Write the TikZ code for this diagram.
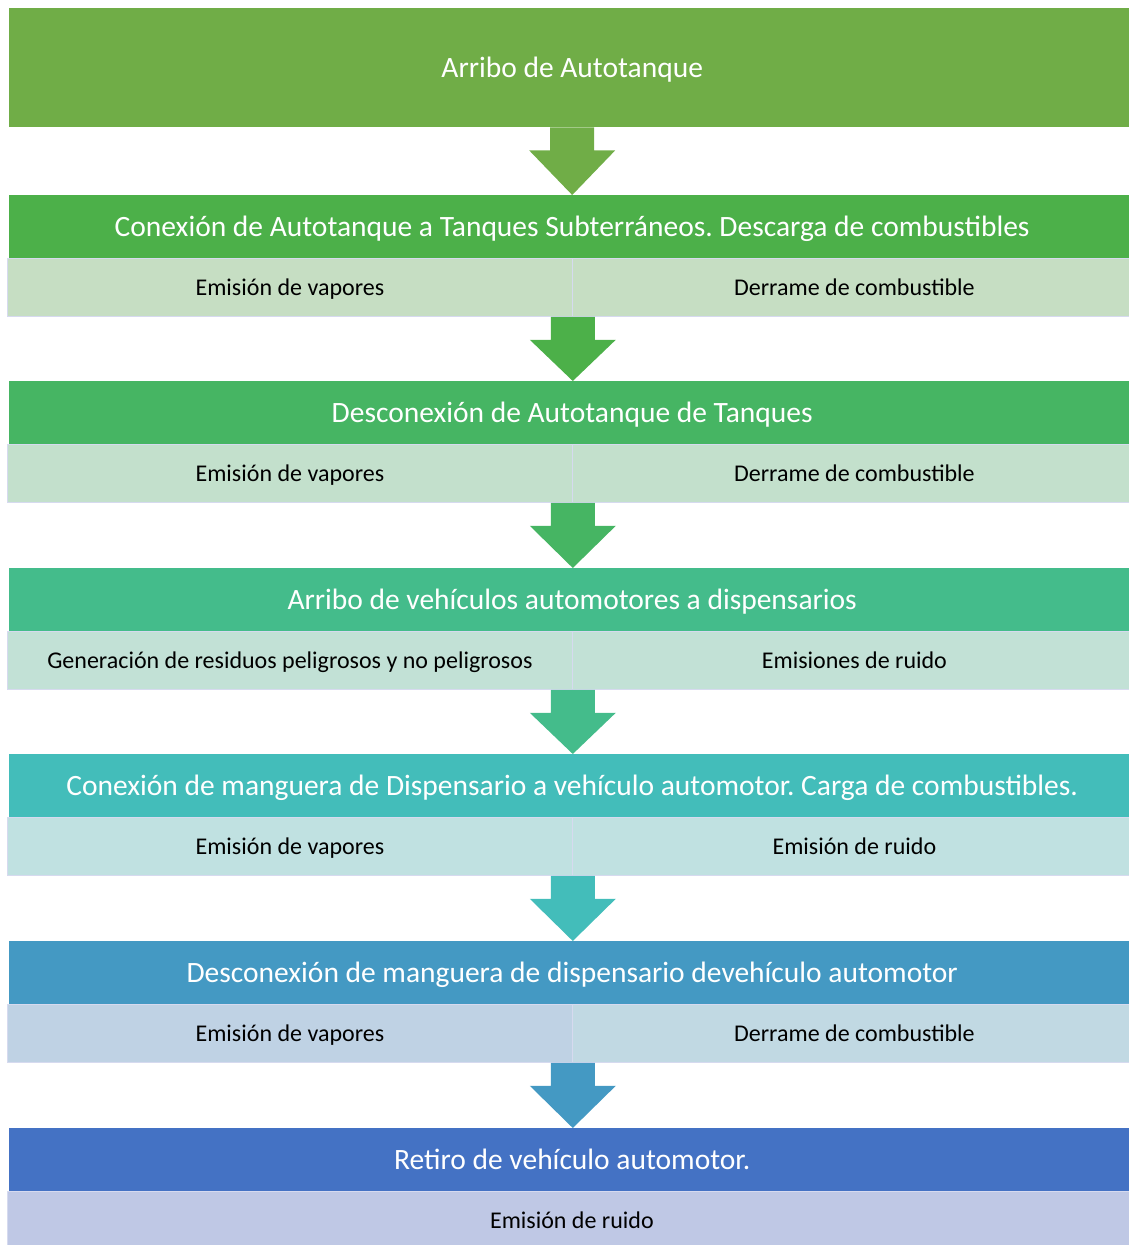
\documentclass[tikz,border=0pt]{standalone}
\usepackage{fontspec}
\setmainfont{Carlito}
\usetikzlibrary{calc}
\frenchspacing
\definecolor{pasoa}{HTML}{70AD47}
\definecolor{pasob}{HTML}{4CB049}
\definecolor{pasoc}{HTML}{46B563}
\definecolor{pasod}{HTML}{44BC8B}
\definecolor{pasoe}{HTML}{43BDBA}
\definecolor{pasof}{HTML}{4499C3}
\definecolor{pasog}{HTML}{4472C4}
\definecolor{celdab}{HTML}{C6DEC3}
\definecolor{celdac}{HTML}{C3E0CC}
\definecolor{celdad}{HTML}{C2E1D6}
\definecolor{celdae}{HTML}{C0E1E1}
\definecolor{celdaf}{HTML}{BFD2E4}
\definecolor{celdafr}{HTML}{C1D9E3}
\definecolor{celdag}{HTML}{BFC8E5}
\definecolor{borde}{HTML}{D6DAEF}
\tikzset{
  titulo/.style={anchor=north west, minimum width=1126pt, minimum height=63pt,
    inner sep=0pt, text=white, text height=24pt, text depth=5pt,
    font=\fontsize{29.5}{34}\selectfont},
  efecto/.style={anchor=north west, minimum height=58pt, inner sep=0pt,
    text height=20pt, text depth=4pt,
    draw=borde, line width=0.8pt, font=\fontsize{24}{28}\selectfont}
}
\newcommand{\etapa}[8]{
% one step: coloured title bar, then two effect cells under it
% #1 name, #2 top y, #3 bar colour, #4 left cell colour, #5 right cell colour
\node[titulo, fill=#3] (#1) at (9,#2) {#6};
\node[efecto, fill=#4, minimum width=565pt] (#1l) at (7,#2+63) {#7};
\node[efecto, fill=#5, minimum width=564pt] (#1r) at (572,#2+63) {#8};
}
\newcommand{\flecha}[3]{
% block arrow from a point down to the top of the next bar
\fill[#3] ($(#1)+(-22,0)$) -- ++(0,23) -- ++(-21,0) -- (#1 |- #2.north)
  -- ($(#1)+(43,23)$) -- ++(-21,0) -- ($(#1)+(22,0)$) -- cycle;
}
\begin{document}
\begin{tikzpicture}[x=1pt, y=-1pt]
\useasboundingbox (0,0) rectangle (1129,1245);

\node[titulo, fill=pasoa, minimum height=119pt] (arribo) at (9,8) {Arribo de Autotanque};

\etapa{descarga}{195}{pasob}{celdab}{celdab}{Conexión de Autotanque a Tanques Subterráneos. Descarga de combustibles}{Emisión de vapores}{Derrame de combustible}
\etapa{desconex}{381}{pasoc}{celdac}{celdac}{Desconexión de Autotanque de Tanques}{Emisión de vapores}{Derrame de combustible}
\etapa{vehiculos}{568}{pasod}{celdad}{celdad}{Arribo de vehículos automotores a dispensarios}{Generación de residuos peligrosos y no peligrosos}{Emisiones de ruido}
\etapa{carga}{754}{pasoe}{celdae}{celdae}{Conexión de manguera de Dispensario a vehículo automotor. Carga de combustibles.}{Emisión de vapores}{Emisión de ruido}
\etapa{manguera}{941}{pasof}{celdaf}{celdafr}{Desconexión de manguera de dispensario devehículo automotor}{Emisión de vapores}{Derrame de combustible}

\node[titulo, fill=pasog] (retiro) at (9,1128) {Retiro de vehículo automotor.};
\node[efecto, fill=celdag, minimum width=1129pt] (retirol) at (7,1191) {Emisión de ruido};

\coordinate (p0) at (arribo.south);
\coordinate (p1) at (descargal.south east);
\coordinate (p2) at (desconexl.south east);
\coordinate (p3) at (vehiculosl.south east);
\coordinate (p4) at (cargal.south east);
\coordinate (p5) at (mangueral.south east);

\flecha{p0}{descarga}{pasoa}
\flecha{p1}{desconex}{pasob}
\flecha{p2}{vehiculos}{pasoc}
\flecha{p3}{carga}{pasod}
\flecha{p4}{manguera}{pasoe}
\flecha{p5}{retiro}{pasof}
\end{tikzpicture}
\end{document}
